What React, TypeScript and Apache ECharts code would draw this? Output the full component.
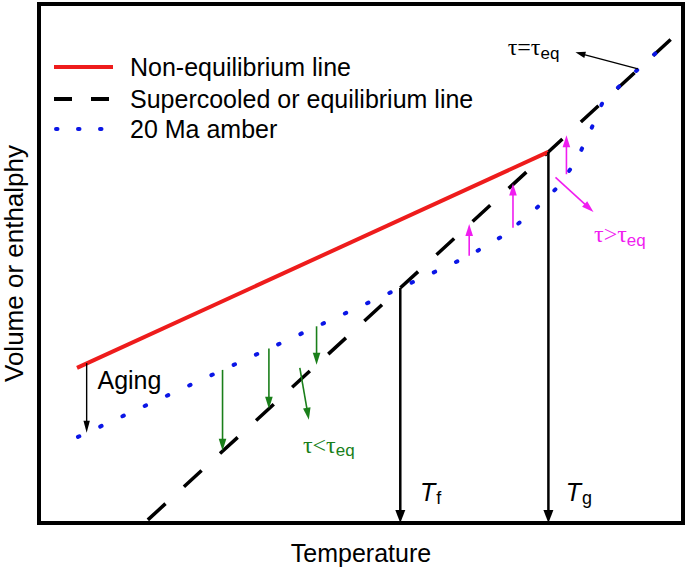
import React, { useEffect, useRef } from "react";
import * as echarts from "echarts";

// ---- data (arbitrary units: temperature 0..100, volume 0..100) ----
const nonEquilibriumLine: [number, number][] = [[5.9, 29.9], [79.1, 71.5]];
const supercooledLine: [number, number][] = [[16.9, 0.6], [98.3, 93.4]];
const amberLine: [number, number][] = [
  [6.05, 16.6], [56.1, 45.3], [66.5, 51.3], [71.6, 55.0], [76.3, 59.5],
  [80.2, 64.3], [83.3, 69.5], [85.6, 75.5], [87.6, 81.3], [98.3, 93.4],
];
const tempMarkerX = [56.1, 79.1]; // Tf, Tg
const tempMarkerTop = [45.3, 71.5];
const agingArrow: [number, number][][] = [[[7.4, 30.8], [7.4, 17.4]]];
const greenArrows: [number, number][][] = [
  [[28.5, 29.5], [28.5, 13.9]],
  [[35.7, 33.6], [35.7, 22.0]],
  [[43.1, 37.9], [43.1, 30.5]],
  [[40.5, 29.9], [41.9, 19.9]],
];
const magentaArrows: [number, number][][] = [
  [[66.8, 51.5], [66.8, 57.6]],
  [[73.6, 56.9], [73.6, 65.4]],
  [[81.9, 67.2], [81.9, 74.7]],
  [[80.2, 66.6], [86.1, 59.9]],
];
const eqArrow: [number, number][][] = [[[93.0, 87.5], [83.3, 90.7]]];

const legendNames = ["Non-equilibrium line", "Supercooled or equilibrium line", "20 Ma amber"];
const labelTexts = ["{txt|Aging}", "{it|T}{sub|f}", "{it|T}{sub|g}", "{tau|τ<τ}{tsub|eq}", "{tau|τ>τ}{tsub|eq}", "{tau|τ=τ}{tsub|eq}"];
const labelPos: [number, number][] = [[9.0, 27.6], [59.1, 6.0], [81.7, 6.0], [40.9, 15.1], [86.1, 55.6], [72.7, 91.7]];
const labelColors = ["#000", "#000", "#000", "#1a7f1a", "#f01df0", "#000"];

const RED = "#ee1c1c";
const BLUE = "#0b16e6";
const GREEN = "#1a7f1a";
const MAGENTA = "#f01df0";
const FONT = "'Liberation Sans', Arial, Helvetica, sans-serif";
const SERIF = "'Liberation Serif', 'DejaVu Serif', serif";

function arrowSeries(name: string, segs: [number, number][][], color: string, width: number, headL: number, headW: number) {
  return {
    type: "custom",
    name,
    coordinateSystem: "cartesian2d",
    silent: true,
    clip: false,
    z: 5,
    encode: { x: [0, 2], y: [1, 3] },
    data: segs.map(([a, b]) => [a[0], a[1], b[0], b[1]]),
    renderItem: (_params: any, api: any) => {
      const p1 = api.coord([api.value(0), api.value(1)]);
      const p2 = api.coord([api.value(2), api.value(3)]);
      const dx = p2[0] - p1[0];
      const dy = p2[1] - p1[1];
      const len = Math.sqrt(dx * dx + dy * dy) || 1;
      const ux = dx / len, uy = dy / len;
      const bx = p2[0] - ux * headL, by = p2[1] - uy * headL;
      const nx = -uy, ny = ux;
      return {
        type: "group",
        children: [
          { type: "line", shape: { x1: p1[0], y1: p1[1], x2: bx + ux, y2: by + uy }, style: { stroke: color, lineWidth: width } },
          {
            type: "polygon",
            shape: { points: [[p2[0], p2[1]], [bx + nx * headW, by + ny * headW], [bx - nx * headW, by - ny * headW]] },
            style: { fill: color },
          },
        ],
      };
    },
  };
}

function richFor(color: string) {
  return {
    txt: { fontSize: 25, fontFamily: FONT, color },
    it: { fontSize: 25, fontStyle: "italic", fontFamily: FONT, color },
    sub: { fontSize: 18, fontFamily: FONT, padding: [12, 0, 0, 1], color },
    tau: { fontSize: 24, fontFamily: SERIF, color },
    tsub: { fontSize: 17, fontFamily: FONT, padding: [12, 0, 0, 0], color },
  };
}

export default function App() {
  const ref = useRef<HTMLDivElement>(null);
  useEffect(() => {
    if (!ref.current) return;
    const chart = echarts.init(ref.current, undefined, { renderer: "svg" });
    const legendY = [67, 99, 129];
    const option: any = {
      animation: false,
      backgroundColor: "#fff",
      textStyle: { fontFamily: FONT },
      grid: {
        left: 39, right: 2, top: 4, bottom: 46, show: true, borderColor: "#000", borderWidth: 4,
        backgroundColor: "transparent", containLabel: false, outerBoundsMode: "none",
      },
      xAxis: {
        type: "value", min: 0, max: 100,
        axisLine: { show: false }, axisTick: { show: false }, axisLabel: { show: false }, splitLine: { show: false },
        name: "Temperature", nameLocation: "middle", nameGap: 17,
        nameTextStyle: { fontSize: 25, color: "#000", fontFamily: FONT },
      },
      yAxis: {
        type: "value", min: 0, max: 100,
        axisLine: { show: false }, axisTick: { show: false }, axisLabel: { show: false }, splitLine: { show: false },
        name: "Volume or enthalphy", nameLocation: "middle", nameGap: 12,
        nameTextStyle: { fontSize: 26, color: "#000", fontFamily: FONT },
      },
      graphic: [
        { type: "line", z: 20, shape: { x1: 54, y1: legendY[0], x2: 113, y2: legendY[0] }, style: { stroke: RED, lineWidth: 4 } },
        { type: "line", z: 20, shape: { x1: 54, y1: legendY[1], x2: 113, y2: legendY[1] }, style: { stroke: "#000", lineWidth: 4, lineDash: [18, 19] } },
        { type: "line", z: 20, shape: { x1: 56, y1: legendY[2], x2: 113, y2: legendY[2] }, style: { stroke: BLUE, lineWidth: 4, lineDash: [1.5, 20.5], lineCap: "round" } },
        ...legendNames.map((n, i) => ({
          type: "text", z: 20, x: 130, y: legendY[i],
          style: { text: n, fill: "#000", font: `25px ${FONT}`, verticalAlign: "middle", align: "left" },
        })),
      ],
      series: [
        { type: "line", name: legendNames[0], data: nonEquilibriumLine, symbol: "none", silent: true, lineStyle: { color: RED, width: 4 }, z: 3 },
        { type: "line", name: legendNames[1], data: supercooledLine, symbol: "none", silent: true, lineStyle: { color: "#000", width: 3.5, type: [24, 25] }, z: 2 },
        { type: "line", name: legendNames[2], data: amberLine, symbol: "none", silent: true, lineStyle: { color: BLUE, width: 4, type: [1.5, 23], cap: "round" }, z: 4 },
        arrowSeries("Tf/Tg", tempMarkerX.map((x, i) => [[x, tempMarkerTop[i]], [x, 0]] as [number, number][]), "#000", 2.5, 13, 5),
        arrowSeries("aging", agingArrow, "#000", 1.4, 12, 3.2),
        arrowSeries("green", greenArrows, GREEN, 1.6, 12, 3.8),
        arrowSeries("magenta", magentaArrows, MAGENTA, 1.6, 12, 3.8),
        arrowSeries("eq", eqArrow, "#000", 1.3, 10, 3.2),
        {
          type: "scatter", silent: true, symbolSize: 1, itemStyle: { color: "rgba(0,0,0,0)", opacity: 1 }, z: 10,
          data: labelPos.map((p, i) => ({
            value: p,
            label: { show: true, position: "right", distance: 0, opacity: 1, formatter: labelTexts[i], color: labelColors[i], rich: richFor(labelColors[i]) },
          })),
        },
      ],
    };
    chart.setOption(option);
    return () => chart.dispose();
  }, []);
  return <div ref={ref} style={{ position: "absolute", left: 0, top: 0, width: 685, height: 569 }} />;
}
